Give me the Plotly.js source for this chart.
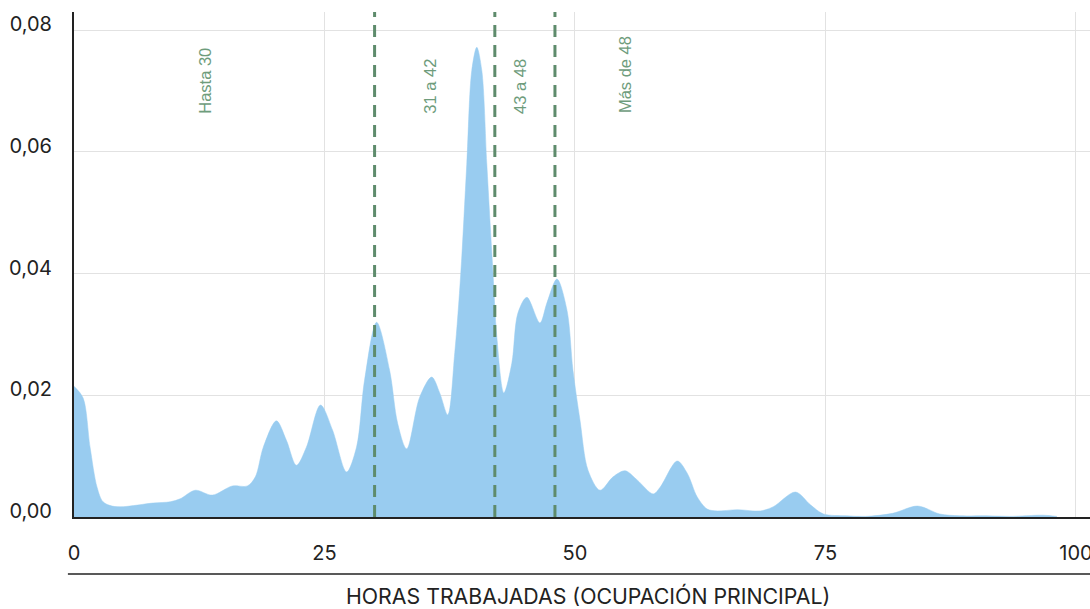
<!DOCTYPE html>
<html>
<head>
<meta charset="utf-8">
<script src="https://cdn.plot.ly/plotly-3.0.1.min.js"></script>
<style>html,body{margin:0;padding:0;background:#fff}#chart{width:1090px;height:609px}</style>
</head>
<body>
<div id="chart"></div>
<script>
// Hours worked (x) and estimated density (y)
const hours = [0,0.9,1.6,2.3,2.9,3.8,4.9,7.9,9.6,10.6,12.1,13.8,15.8,17.3,18.1,18.9,20.2,21.2,22.2,23.2,24.6,25.8,27.2,28.2,29.0,30.2,31.5,32.3,33.2,34.5,35.7,36.5,37.3,38.0,38.6,39.2,39.7,40.2,40.7,41.2,41.8,42.2,42.9,43.7,44.3,45.2,46.5,47.2,48.2,49.2,49.8,50.5,51.3,52.5,53.8,55.0,56.2,57.8,58.5,60.2,61.2,62.2,63.2,64.2,66.2,68.5,69.8,72.0,73.5,74.8,77.1,79.0,81.7,84.2,86.4,88.4,91.1,93.4,96.7,98.1];
const density = [0.0215,0.0196,0.0115,0.0049,0.0025,0.0018,0.0017,0.0023,0.0025,0.0030,0.0044,0.0036,0.0051,0.0051,0.0066,0.0115,0.0158,0.0126,0.0085,0.0115,0.0184,0.0143,0.0074,0.0115,0.0225,0.0320,0.0241,0.0154,0.0112,0.0197,0.0230,0.0204,0.0168,0.0270,0.0400,0.0580,0.0734,0.0772,0.0734,0.0580,0.0406,0.0296,0.0204,0.0253,0.0335,0.0361,0.0319,0.0352,0.0391,0.0340,0.0241,0.0159,0.0077,0.0044,0.0066,0.0076,0.0061,0.0038,0.0049,0.0092,0.0072,0.0033,0.0013,0.0010,0.0012,0.0010,0.0017,0.0041,0.0020,0.0005,0.0002,0.0001,0.0006,0.0018,0.0005,0.0002,0.0002,0.0001,0.0003,0.0001];

// Group cut-offs and their labels
const cutoffs = [30, 42, 48];
const groupLabels = ["Hasta 30", "31 a 42", "43 a 48", "Más de 48"];
const labelX = [13, 35.5, 44.5, 55];

const xTicks = [0, 25, 50, 75, 100];
const yTicks = [0, 0.02, 0.04, 0.06, 0.08];

const green = "#5e8b6c";
const labelGreen = "#6e9c7c";

const shapes = cutoffs.map(c => ({
  type: "line", xref: "x", yref: "paper", x0: c, x1: c, y0: 0, y1: 1,
  line: {color: green, width: 3, dash: "12px,8px"}, layer: "above"
}));
shapes.push({
  type: "line", xref: "paper", yref: "paper", x0: -0.006, x1: 1, y0: -0.113, y1: -0.113,
  line: {color: "#222", width: 1.5}
});

const annotations = groupLabels.map((t, i) => ({
  text: t, x: labelX[i], xref: "x", y: 0.795, yref: "paper",
  yanchor: "bottom", xanchor: "center", textangle: -90, showarrow: false,
  font: {family: "Liberation Sans, Arial, sans-serif", size: 16.5, color: labelGreen}
}));
annotations.push({
  text: "HORAS TRABAJADAS (OCUPACIÓN PRINCIPAL)", x: 0.506, xref: "paper",
  y: -0.1564, yref: "paper", yanchor: "middle", xanchor: "center", showarrow: false,
  font: {family: "Inter, sans-serif", size: 21.3, color: "#222"}
});

const trace = {
  x: hours, y: density, type: "scatter", mode: "lines",
  line: {shape: "spline", smoothing: 0.9, color: "#99ccf0", width: 0.5},
  fill: "tozeroy", fillcolor: "#99ccf0", hoverinfo: "skip"
};

const layout = {
  width: 1090, height: 609,
  margin: {l: 74, r: 0, t: 12, b: 92},
  paper_bgcolor: "#fff", plot_bgcolor: "#fff",
  separators: ",.",
  showlegend: false,
  font: {family: "Inter, sans-serif", color: "#222"},
  xaxis: {
    range: [0, 101.4], tickvals: xTicks, ticktext: xTicks.map(String),
    showgrid: true, gridcolor: "#e2e2e2", gridwidth: 1,
    zeroline: false, showline: true, linecolor: "#222", linewidth: 2,
    ticks: "", ticklabelstandoff: 17, ticklabeloverflow: "allow",
    tickfont: {family: "Inter, sans-serif", size: 20, color: "#222"}
  },
  yaxis: {
    range: [0, 0.083], tickvals: yTicks, tickformat: ".2f",
    showgrid: true, gridcolor: "#e2e2e2", gridwidth: 1,
    zeroline: false, showline: true, linecolor: "#222", linewidth: 2,
    ticks: "", ticklabelstandoff: 16, ticklabelshift: -6,
    tickfont: {family: "Inter, sans-serif", size: 20, color: "#222"}
  },
  shapes: shapes,
  annotations: annotations
};

Plotly.newPlot("chart", [trace], layout, {displayModeBar: false, staticPlot: true});
</script>
</body>
</html>
